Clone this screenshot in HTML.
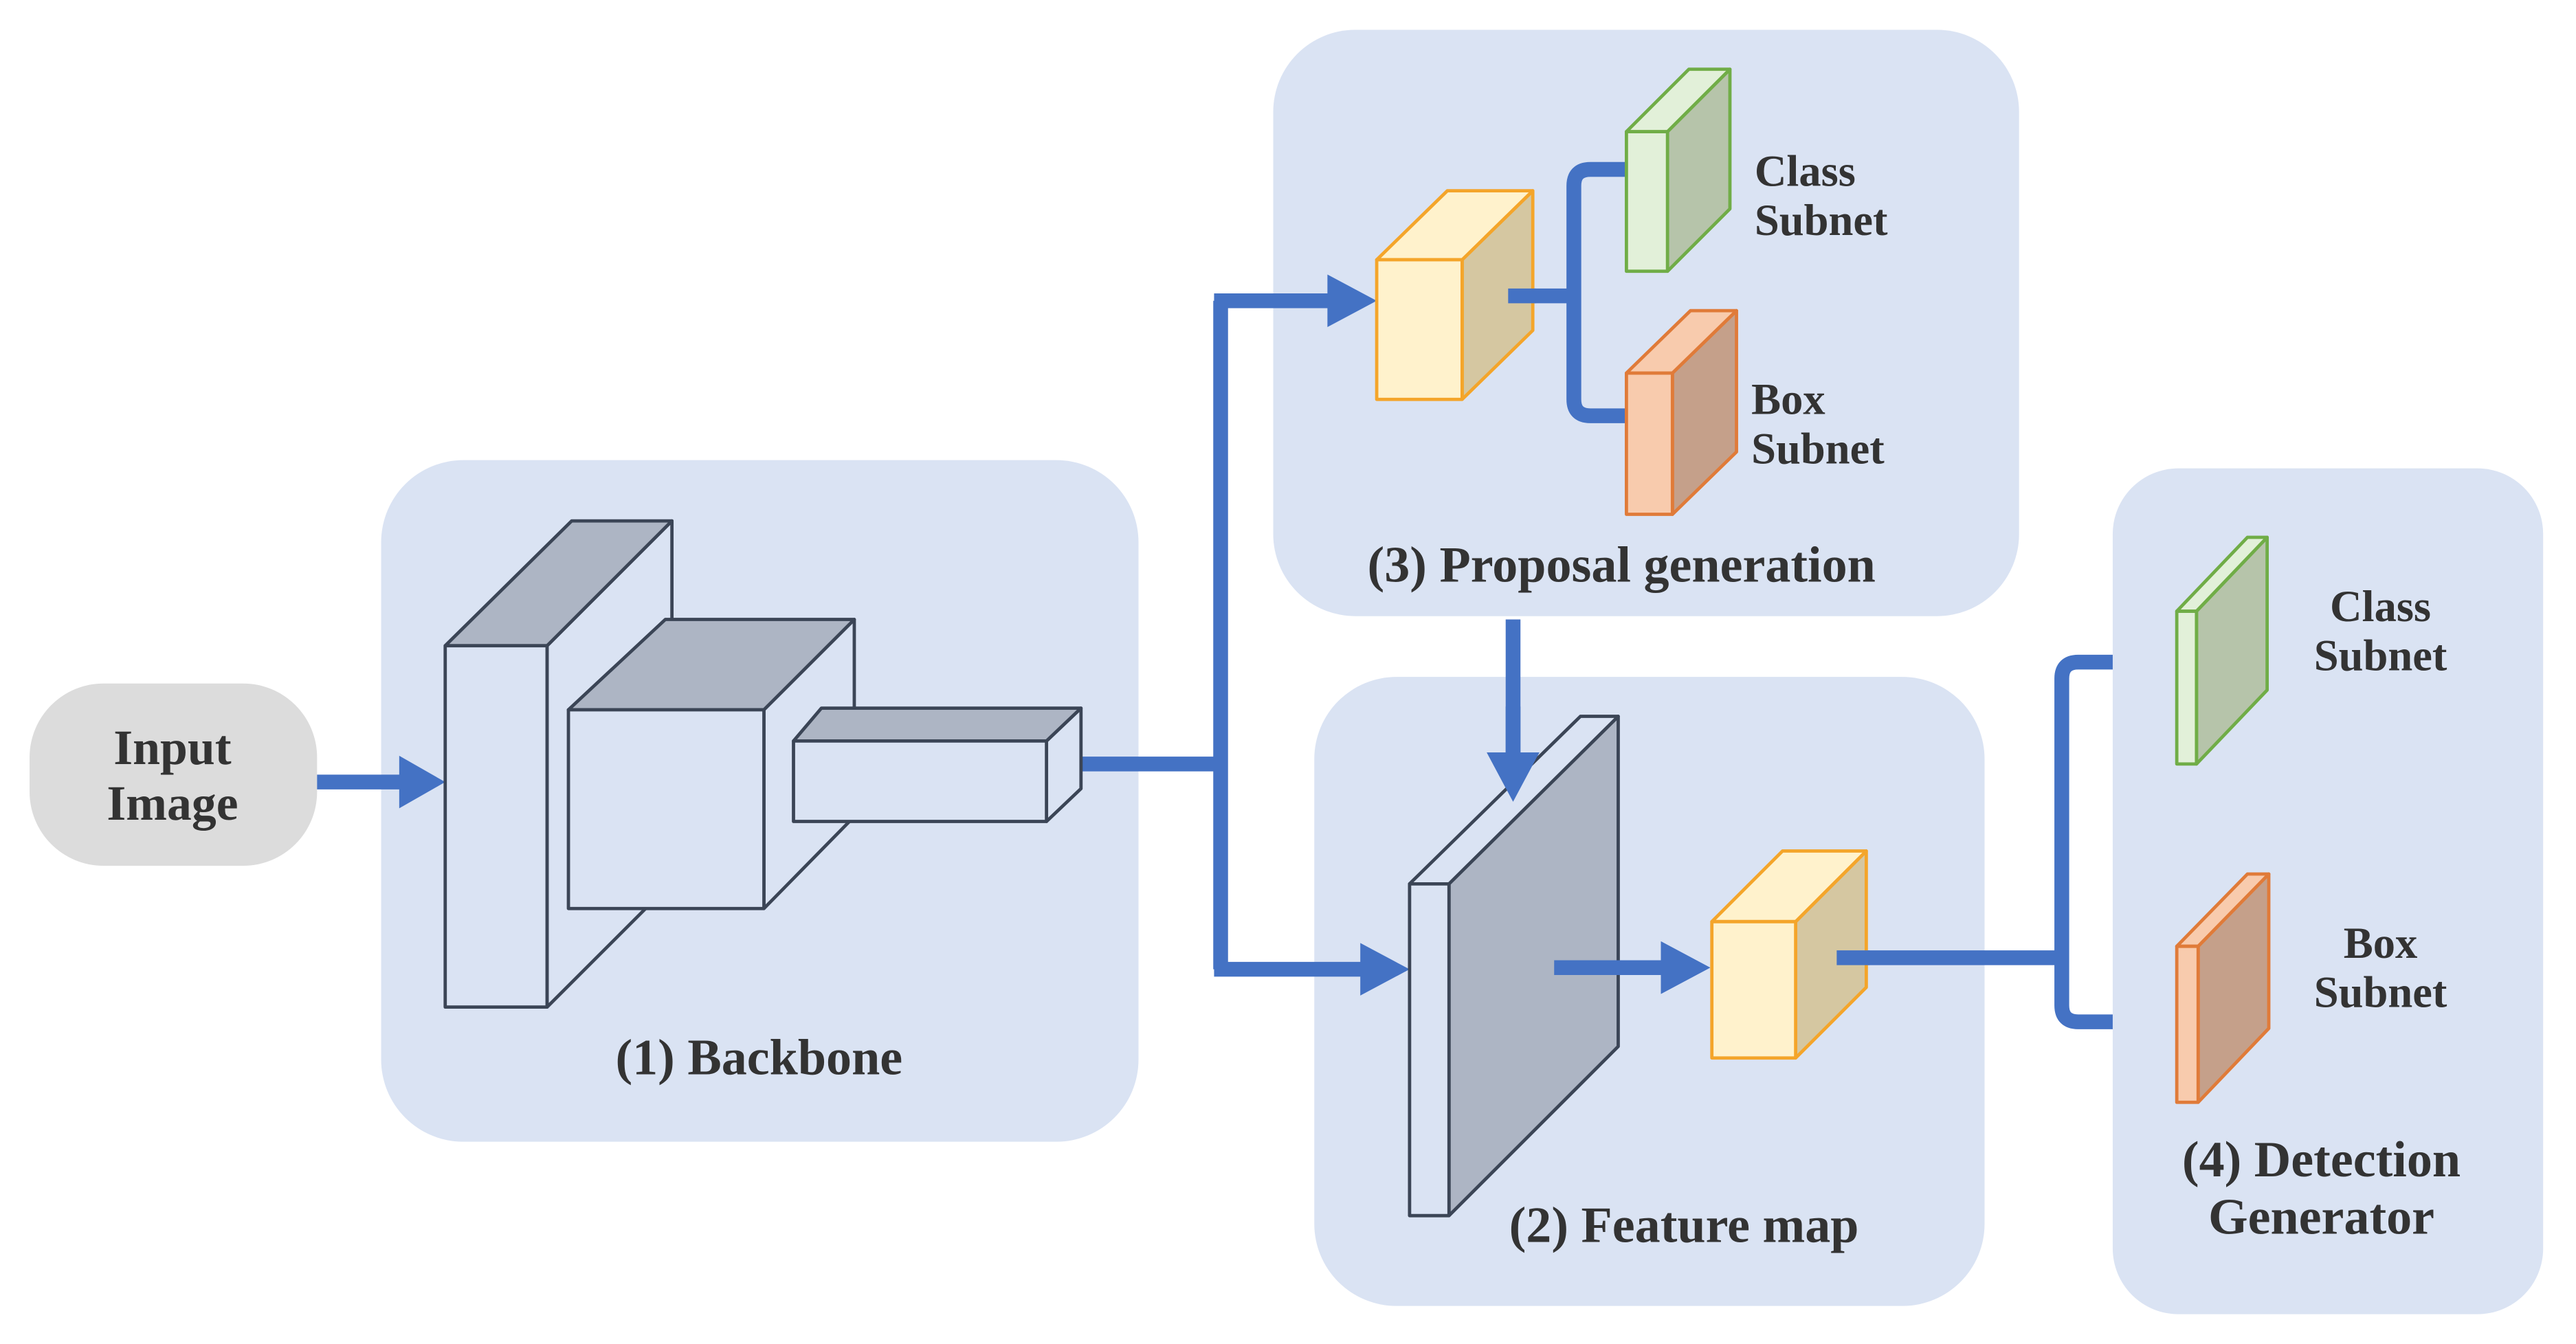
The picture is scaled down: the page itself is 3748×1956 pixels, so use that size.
<!DOCTYPE html>
<html><head><meta charset="utf-8"><style>
html,body{margin:0;padding:0;background:#fff}
svg{display:block}
text{font-family:"Liberation Serif",serif;font-weight:bold;fill:#333}
</style></head><body>
<svg width="3748" height="1956" viewBox="0 0 1568 818" xmlns="http://www.w3.org/2000/svg">
<rect width="1568" height="818" fill="#fff"/>
<!-- panels -->
<rect x="232" y="280" width="461" height="415" rx="50" fill="#dae3f3"/>
<rect x="775" y="18" width="454" height="357" rx="50" fill="#dae3f3"/>
<rect x="800" y="412" width="408" height="383" rx="50" fill="#dae3f3"/>
<rect x="1286" y="285" width="262" height="515" rx="40" fill="#dae3f3"/>
<!-- input -->
<rect x="18" y="416" width="175" height="111" rx="45" fill="#dcdcdc"/>
<text x="105" y="465" font-size="30" text-anchor="middle">Input</text>
<text x="105" y="499" font-size="30" text-anchor="middle">Image</text>
<g stroke="#4472c4" stroke-width="9" fill="none">
<line x1="193" y1="476" x2="246" y2="476"/>
<polyline points="647,465 743,465"/>
<line x1="743" y1="183" x2="743" y2="590"/>
<line x1="739" y1="183" x2="812" y2="183"/>
<line x1="739" y1="590" x2="832" y2="590"/>
<line x1="918" y1="180" x2="958" y2="180"/>
<path d="M990,103 H968 Q958,103 958,113 V243 Q958,253 968,253 H990"/>
<line x1="921" y1="377" x2="921" y2="462"/>
<line x1="946" y1="589" x2="1015" y2="589"/>
<line x1="1118" y1="583" x2="1255" y2="583"/>
<path d="M1286,403 H1265 Q1255,403 1255,413 V612 Q1255,622 1265,622 H1286"/>
</g>
<g fill="#4472c4">
<polygon points="243,460 271,476 243,492"/>
<polygon points="808,167 838,183 808,199"/>
<polygon points="828,574 858,590 828,606"/>
<polygon points="905,458 921,488 937,458"/>
<polygon points="1011,573 1041,589 1011,605"/>
</g>
<!-- backbone boxes -->
<g stroke="#3b4556" stroke-width="2" stroke-linejoin="round">
<polygon points="333,393 409,317 409,537 333,613" fill="#dae3f3"/>
<polygon points="271,393 348,317 409,317 333,393" fill="#adb5c4"/>
<rect x="271" y="393" width="62" height="220" fill="#dae3f3"/>
<polygon points="465,432 520,377 520,497 465,553" fill="#dae3f3"/>
<polygon points="346,432 405,377 520,377 465,432" fill="#adb5c4"/>
<rect x="346" y="432" width="119" height="121" fill="#dae3f3"/>
<polygon points="637,451 658,431 658,480 637,500" fill="#dae3f3"/>
<polygon points="483,451 500,431 658,431 637,451" fill="#adb5c4"/>
<rect x="483" y="451" width="154" height="49" fill="#dae3f3"/>
<!-- feature map slab -->
<polygon points="882,538 985,436 985,637 882,740" fill="#adb5c4"/>
<polygon points="858,538 962,436 985,436 882,538" fill="#dae3f3"/>
<rect x="858" y="538" width="24" height="202" fill="#dae3f3"/>
</g>
<g stroke="#4472c4" stroke-width="9"><line x1="946" y1="589" x2="1015" y2="589"/></g>
<polygon points="1011,573 1041,589 1011,605" fill="#4472c4"/>
<g stroke="#4472c4" stroke-width="9"><line x1="921" y1="430" x2="921" y2="462"/></g>
<polygon points="905,458 921,488 937,458" fill="#4472c4"/>
<!-- yellow cubes -->
<g stroke="#f4a52a" stroke-width="2" stroke-linejoin="round">
<polygon points="890,158 933,116 933,201 890,243" fill="#d5c7a1"/>
<polygon points="838,158 881,116 933,116 890,158" fill="#fff2cc"/>
<rect x="838" y="158" width="52" height="85" fill="#fff2cc"/>
<polygon points="1093,561 1136,518 1136,601 1093,644" fill="#d5c7a1"/>
<polygon points="1042,561 1085,518 1136,518 1093,561" fill="#fff2cc"/>
<rect x="1042" y="561" width="51" height="83" fill="#fff2cc"/>
</g>
<line x1="918" y1="180" x2="935" y2="180" stroke="#4472c4" stroke-width="9"/>
<line x1="1118" y1="583" x2="1138" y2="583" stroke="#4472c4" stroke-width="9"/>
<!-- green -->
<g stroke="#70ad47" stroke-width="2" stroke-linejoin="round">
<polygon points="1015,80 1053,42 1053,127 1015,165" fill="#b6c4aa"/>
<polygon points="990,80 1028,42 1053,42 1015,80" fill="#e2f0d9"/>
<rect x="990" y="80" width="25" height="85" fill="#e2f0d9"/>
<polygon points="1337,372 1380,327 1380,420 1337,465" fill="#b6c4aa"/>
<polygon points="1325,372 1368,327 1380,327 1337,372" fill="#e2f0d9"/>
<rect x="1325" y="372" width="12" height="93" fill="#e2f0d9"/>
</g>
<!-- orange -->
<g stroke="#e07b39" stroke-width="2" stroke-linejoin="round">
<polygon points="1018,227 1057,189 1057,275 1018,313" fill="#c5a08a"/>
<polygon points="990,227 1029,189 1057,189 1018,227" fill="#f8cbad"/>
<rect x="990" y="227" width="28" height="86" fill="#f8cbad"/>
<polygon points="1338,576 1381,532 1381,626 1338,671" fill="#c5a08a"/>
<polygon points="1325,576 1368,532 1381,532 1338,576" fill="#f8cbad"/>
<rect x="1325" y="576" width="13" height="95" fill="#f8cbad"/>
</g>
<!-- labels -->
<g font-size="27">
<text x="1068" y="113">Class</text>
<text x="1068" y="143">Subnet</text>
<text x="1066" y="252">Box</text>
<text x="1066" y="282">Subnet</text>
<text x="1449" y="378" text-anchor="middle">Class</text>
<text x="1449" y="408" text-anchor="middle">Subnet</text>
<text x="1449" y="583" text-anchor="middle">Box</text>
<text x="1449" y="613" text-anchor="middle">Subnet</text>
</g>
<g font-size="31" text-anchor="middle">
<text x="462" y="654">(1) Backbone</text>
<text x="987" y="354">(3) Proposal generation</text>
<text x="1025" y="756">(2) Feature map</text>
<text x="1413" y="716">(4) Detection</text>
<text x="1413" y="751">Generator</text>
</g>
</svg>
</body></html>
